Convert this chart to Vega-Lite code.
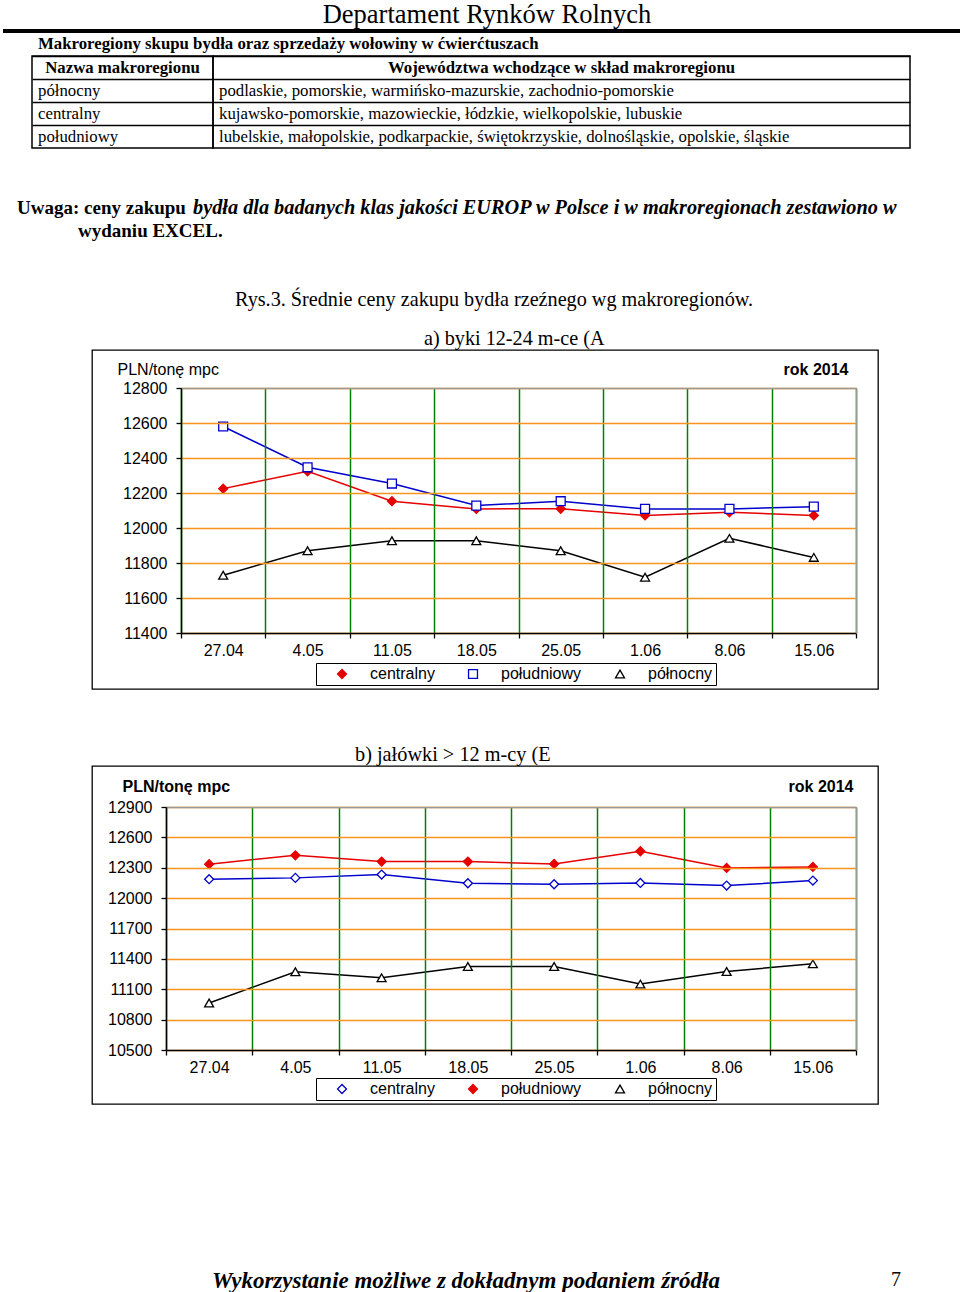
{
  "$schema": "https://vega.github.io/schema/vega-lite/v6.json",
  "background": "white",
  "padding": 0,
  "spacing": 0,
  "bounds": "full",
  "config": {"view": {"stroke": null}, "concat": {"spacing": 0}},
  "resolve": {"scale": {"stroke": "independent", "fill": "independent", "shape": "independent"}, "legend": {"stroke": "independent", "fill": "independent", "shape": "independent"}},
  "vconcat": [
    {"width": 960, "height": 28, "data": {"values": [{"t": "Departament Rynków Rolnych"}]},
     "mark": {"type": "text", "font": "Liberation Serif", "fontSize": 26.5, "dx": 7, "dy": 1, "color": "black"},
     "encoding": {"text": {"field": "t"}}},
    {"hconcat": [
      {"width": 3, "height": 4, "data": {"values": [{}]}, "mark": {"type": "point", "opacity": 0, "size": 1}},
      {"width": 957, "height": 4, "data": {"values": [{}]}, "mark": {"type": "point", "opacity": 0, "size": 1}, "view": {"fill": "black", "stroke": null}}
    ], "spacing": 0, "bounds": "flush"},
    {"hconcat": [
      {"width": 38, "height": 22, "data": {"values": [{}]}, "mark": {"type": "point", "opacity": 0, "size": 1}},
      {"width": 860, "height": 22, "data": {"values": [{"t": "Makroregiony skupu bydła oraz sprzedaży wołowiny w ćwierćtuszach"}]},
       "mark": {"type": "text", "align": "left", "font": "Liberation Serif", "fontSize": 16.8, "fontWeight": "bold", "color": "black"},
       "encoding": {"text": {"field": "t"}, "x": {"datum": 0, "type": "quantitative", "scale": {"domain": [0, 1]}, "axis": null}}}
    ], "spacing": 0, "bounds": "flush"},
    {"hconcat": [
      {"width": 32, "height": 92, "data": {"values": [{}]}, "mark": {"type": "point", "opacity": 0, "size": 1}},
      {"width": 181, "height": 92, "view": {"stroke": "black", "strokeWidth": 1.5},
       "data": {"values": [{"r": 0, "t": "Nazwa makroregionu"}, {"r": 1, "t": "północny"}, {"r": 2, "t": "centralny"}, {"r": 3, "t": "południowy"}]},
       "encoding": {"y": {"field": "r", "type": "ordinal", "scale": {"type": "band", "paddingInner": 0, "paddingOuter": 0}, "axis": {"title": null, "labels": false, "ticks": false, "domain": false, "grid": true, "gridColor": "black", "gridWidth": 1.5, "bandPosition": 0}}, "text": {"field": "t"}},
       "layer": [
         {"transform": [{"filter": "datum.r == 0"}], "mark": {"type": "text", "font": "Liberation Serif", "fontSize": 16.8, "fontWeight": "bold", "color": "black"}},
         {"transform": [{"filter": "datum.r > 0"}], "mark": {"type": "text", "align": "left", "dx": 6, "font": "Liberation Serif", "fontSize": 16.8, "color": "black"},
          "encoding": {"x": {"datum": 0, "type": "quantitative", "scale": {"domain": [0, 1]}, "axis": null}}}
       ]},
      {"width": 697, "height": 92, "view": {"stroke": "black", "strokeWidth": 1.5},
       "data": {"values": [{"r": 0, "t": "Województwa wchodzące w skład makroregionu"}, {"r": 1, "t": "podlaskie, pomorskie, warmińsko-mazurskie, zachodnio-pomorskie"}, {"r": 2, "t": "kujawsko-pomorskie, mazowieckie, łódzkie, wielkopolskie, lubuskie"}, {"r": 3, "t": "lubelskie, małopolskie, podkarpackie, świętokrzyskie, dolnośląskie, opolskie, śląskie"}]},
       "encoding": {"y": {"field": "r", "type": "ordinal", "scale": {"type": "band", "paddingInner": 0, "paddingOuter": 0}, "axis": {"title": null, "labels": false, "ticks": false, "domain": false, "grid": true, "gridColor": "black", "gridWidth": 1.5, "bandPosition": 0}}, "text": {"field": "t"}},
       "layer": [
         {"transform": [{"filter": "datum.r == 0"}], "mark": {"type": "text", "font": "Liberation Serif", "fontSize": 16.8, "fontWeight": "bold", "color": "black"}},
         {"transform": [{"filter": "datum.r > 0"}], "mark": {"type": "text", "align": "left", "dx": 6, "font": "Liberation Serif", "fontSize": 16.8, "color": "black"},
          "encoding": {"x": {"datum": 0, "type": "quantitative", "scale": {"domain": [0, 1]}, "axis": null}}}
       ]}
    ], "spacing": 0, "bounds": "flush"},
    {"width": 1, "height": 47, "data": {"values": [{}]}, "mark": {"type": "point", "opacity": 0, "size": 1}},
    {"hconcat": [
      {"width": 17, "height": 46, "data": {"values": [{}]}, "mark": {"type": "point", "opacity": 0, "size": 1}},
      {"width": 900, "height": 46,
       "data": {"values": [{"ln": 1, "g": "a", "t": "Uwaga: ceny zakupu"}, {"ln": 1, "g": "b", "t": "bydła dla badanych klas jakości EUROP w Polsce i w makroregionach zestawiono w"}, {"ln": 2, "g": "c", "t": "wydaniu EXCEL."}]},
       "encoding": {"y": {"field": "ln", "type": "ordinal", "scale": {"type": "band", "paddingInner": 0, "paddingOuter": 0}, "axis": null},
                    "x": {"datum": 0, "type": "quantitative", "scale": {"domain": [0, 1]}, "axis": null},
                    "text": {"field": "t"}},
       "layer": [
         {"transform": [{"filter": "datum.g == 'a'"}], "mark": {"type": "text", "align": "left", "font": "Liberation Serif", "fontSize": 19, "fontWeight": "bold", "color": "black"}},
         {"transform": [{"filter": "datum.g == 'b'"}], "mark": {"type": "text", "align": "left", "dx": 176, "font": "Liberation Serif", "fontSize": 20.3, "fontWeight": "bold", "fontStyle": "italic", "color": "black"}},
         {"transform": [{"filter": "datum.g == 'c'"}], "mark": {"type": "text", "align": "left", "dx": 61, "font": "Liberation Serif", "fontSize": 19, "fontWeight": "bold", "color": "black"}}
       ]}
    ], "spacing": 0, "bounds": "flush"},
    {"width": 1, "height": 47, "data": {"values": [{}]}, "mark": {"type": "point", "opacity": 0, "size": 1}},
    {"hconcat": [
      {"width": 235, "height": 22, "data": {"values": [{}]}, "mark": {"type": "point", "opacity": 0, "size": 1}},
      {"width": 700, "height": 22, "data": {"values": [{"t": "Rys.3. Średnie ceny zakupu bydła rzeźnego wg makroregionów."}]},
       "mark": {"type": "text", "align": "left", "font": "Liberation Serif", "fontSize": 20.2, "color": "black"},
       "encoding": {"text": {"field": "t"}, "x": {"datum": 0, "type": "quantitative", "scale": {"domain": [0, 1]}, "axis": null}}}
    ], "spacing": 0, "bounds": "flush"},
    {"width": 1, "height": 16, "data": {"values": [{}]}, "mark": {"type": "point", "opacity": 0, "size": 1}},
    {"hconcat": [
      {"width": 424, "height": 21, "data": {"values": [{}]}, "mark": {"type": "point", "opacity": 0, "size": 1}},
      {"width": 400, "height": 21, "data": {"values": [{"t": "a) byki 12-24 m-ce (A"}]},
       "mark": {"type": "text", "align": "left", "font": "Liberation Serif", "fontSize": 20.2, "dy": 1, "color": "black"},
       "encoding": {"text": {"field": "t"}, "x": {"datum": 0, "type": "quantitative", "scale": {"domain": [0, 1]}, "axis": null}}}
    ], "spacing": 0, "bounds": "flush"},
    {"hconcat": [
      {"width": 92, "height": 339, "data": {"values": [{}]}, "mark": {"type": "point", "opacity": 0, "size": 1}},
      {"width": 786, "height": 339,
       "view": {"stroke": "black", "strokeWidth": 1.3},
       "data": {"values": [
         {"d": "27.04", "s": "centralny", "v": 12225}, {"d": "4.05", "s": "centralny", "v": 12324}, {"d": "11.05", "s": "centralny", "v": 12153}, {"d": "18.05", "s": "centralny", "v": 12109},
         {"d": "25.05", "s": "centralny", "v": 12110}, {"d": "1.06", "s": "centralny", "v": 12072}, {"d": "8.06", "s": "centralny", "v": 12090}, {"d": "15.06", "s": "centralny", "v": 12072},
         {"d": "27.04", "s": "południowy", "v": 12580}, {"d": "4.05", "s": "południowy", "v": 12347}, {"d": "11.05", "s": "południowy", "v": 12254}, {"d": "18.05", "s": "południowy", "v": 12128},
         {"d": "25.05", "s": "południowy", "v": 12153}, {"d": "1.06", "s": "południowy", "v": 12109}, {"d": "8.06", "s": "południowy", "v": 12109}, {"d": "15.06", "s": "południowy", "v": 12122},
         {"d": "27.04", "s": "północny", "v": 11730}, {"d": "4.05", "s": "północny", "v": 11870}, {"d": "11.05", "s": "północny", "v": 11927}, {"d": "18.05", "s": "północny", "v": 11927},
         {"d": "25.05", "s": "północny", "v": 11870}, {"d": "1.06", "s": "północny", "v": 11719}, {"d": "8.06", "s": "północny", "v": 11941}, {"d": "15.06", "s": "północny", "v": 11832}
       ]},
       "layer": [
         {"mark": {"type": "line", "strokeWidth": 1.5},
          "encoding": {
            "x": {"field": "d", "type": "ordinal", "sort": ["27.04", "4.05", "11.05", "18.05", "25.05", "1.06", "8.06", "15.06"],
                  "scale": {"type": "band", "range": [89, 764], "paddingInner": 0, "paddingOuter": 0},
                  "axis": {"orient": "bottom", "offset": -56, "tickBand": "extent", "grid": false, "domainColor": "black", "domainWidth": 1.5, "tickColor": "black", "tickWidth": 1.3, "tickSize": 5, "labelFont": "Liberation Sans", "labelFontSize": 16, "labelColor": "black", "labelPadding": 4, "labelAngle": 0, "title": null, "zindex": 1}},
            "y": {"field": "v", "type": "quantitative",
                  "scale": {"domain": [11400, 12800], "range": [283, 38], "zero": false, "nice": false},
                  "axis": {"orient": "left", "offset": -89, "values": [11400, 11600, 11800, 12000, 12200, 12400, 12600, 12800], "format": "d", "grid": true, "gridColor": "#f7941d", "gridWidth": 1.5, "domainColor": "black", "domainWidth": 1.5, "tickColor": "black", "tickWidth": 1.3, "tickSize": 5, "labelFont": "Liberation Sans", "labelFontSize": 16, "labelColor": "black", "labelPadding": 9,
                           "title": "PLN/tonę mpc", "titleAngle": 0, "titleAlign": "left", "titleBaseline": "middle", "titleX": -64, "titleY": 19, "titleFont": "Liberation Sans", "titleFontSize": 16, "titleFontWeight": "normal", "titleColor": "black", "zindex": 1}},
            "stroke": {"field": "s", "type": "nominal", "scale": {"domain": ["centralny", "południowy", "północny"], "range": ["#e60000", "#0000cc", "black"]}}
          }},
         {"mark": {"type": "point", "filled": true, "size": 80, "strokeWidth": 1.3, "opacity": 1},
          "encoding": {
            "x": {"field": "d", "type": "ordinal", "sort": ["27.04", "4.05", "11.05", "18.05", "25.05", "1.06", "8.06", "15.06"],
                  "scale": {"type": "band", "range": [89, 764], "paddingInner": 0, "paddingOuter": 0},
                  "axis": {"orient": "top", "offset": -38, "tickBand": "extent", "grid": true, "gridColor": "#008000", "gridWidth": 1.5, "domainColor": "#999999", "domainWidth": 1.5, "ticks": false, "labels": false, "title": null, "zindex": 1}},
            "y": {"field": "v", "type": "quantitative",
                  "scale": {"domain": [11400, 12800], "range": [283, 38], "zero": false, "nice": false},
                  "axis": {"orient": "right", "offset": -22, "grid": false, "domainColor": "#999999", "domainWidth": 1.5, "ticks": false, "labels": false,
                           "title": "rok 2014", "titleAngle": 0, "titleAlign": "right", "titleBaseline": "middle", "titleX": -8, "titleY": 19, "titleFont": "Liberation Sans", "titleFontSize": 16, "titleFontWeight": "bold", "titleColor": "black", "zindex": 1}},
            "stroke": {"field": "s", "type": "nominal", "scale": {"domain": ["centralny", "południowy", "północny"], "range": ["#e60000", "#0000cc", "black"]},
                       "legend": {"orient": "none", "legendX": 224, "legendY": 313, "direction": "horizontal", "title": null, "strokeColor": "black", "fillColor": "white", "padding": 3, "symbolSize": 80, "symbolStrokeWidth": 1.3, "symbolOffset": 15, "labelOffset": 20, "columnPadding": 15, "labelFont": "Liberation Sans", "labelFontSize": 16, "labelColor": "black"}},
            "fill": {"field": "s", "type": "nominal", "scale": {"domain": ["centralny", "południowy", "północny"], "range": ["#e60000", "white", "white"]},
                     "legend": {"orient": "none", "legendX": 224, "legendY": 313, "direction": "horizontal", "title": null, "strokeColor": "black", "fillColor": "white", "padding": 3, "symbolSize": 80, "symbolStrokeWidth": 1.3, "symbolOffset": 15, "labelOffset": 20, "columnPadding": 15, "labelFont": "Liberation Sans", "labelFontSize": 16, "labelColor": "black"}},
            "shape": {"field": "s", "type": "nominal", "scale": {"domain": ["centralny", "południowy", "północny"], "range": ["diamond", "square", "triangle-up"]},
                      "legend": {"orient": "none", "legendX": 224, "legendY": 313, "direction": "horizontal", "title": null, "strokeColor": "black", "fillColor": "white", "padding": 3, "symbolSize": 80, "symbolStrokeWidth": 1.3, "symbolOffset": 15, "labelOffset": 20, "columnPadding": 15, "labelFont": "Liberation Sans", "labelFontSize": 16, "labelColor": "black"}}
          }}
       ],
       "resolve": {"axis": {"x": "independent", "y": "independent"}}}
    ], "spacing": 0, "bounds": "flush",
    "resolve": {"scale": {"stroke": "independent", "fill": "independent", "shape": "independent"}, "legend": {"stroke": "independent", "fill": "independent", "shape": "independent"}}},
    {"width": 1, "height": 53, "data": {"values": [{}]}, "mark": {"type": "point", "opacity": 0, "size": 1}},
    {"hconcat": [
      {"width": 355, "height": 21, "data": {"values": [{}]}, "mark": {"type": "point", "opacity": 0, "size": 1}},
      {"width": 400, "height": 21, "data": {"values": [{"t": "b) jałówki > 12 m-cy (E"}]},
       "mark": {"type": "text", "align": "left", "font": "Liberation Serif", "fontSize": 20.3, "dy": 1, "color": "black"},
       "encoding": {"text": {"field": "t"}, "x": {"datum": 0, "type": "quantitative", "scale": {"domain": [0, 1]}, "axis": null}}}
    ], "spacing": 0, "bounds": "flush"},
    {"hconcat": [
      {"width": 92, "height": 338, "data": {"values": [{}]}, "mark": {"type": "point", "opacity": 0, "size": 1}},
      {"width": 786, "height": 338,
       "view": {"stroke": "black", "strokeWidth": 1.3},
       "data": {"values": [
         {"d": "27.04", "s": "centralny", "v": 12187}, {"d": "4.05", "s": "centralny", "v": 12200}, {"d": "11.05", "s": "centralny", "v": 12233}, {"d": "18.05", "s": "centralny", "v": 12147},
         {"d": "25.05", "s": "centralny", "v": 12137}, {"d": "1.06", "s": "centralny", "v": 12150}, {"d": "8.06", "s": "centralny", "v": 12124}, {"d": "15.06", "s": "centralny", "v": 12173},
         {"d": "27.04", "s": "południowy", "v": 12335}, {"d": "4.05", "s": "południowy", "v": 12423}, {"d": "11.05", "s": "południowy", "v": 12361}, {"d": "18.05", "s": "południowy", "v": 12361},
         {"d": "25.05", "s": "południowy", "v": 12338}, {"d": "1.06", "s": "południowy", "v": 12463}, {"d": "8.06", "s": "południowy", "v": 12298}, {"d": "15.06", "s": "południowy", "v": 12308},
         {"d": "27.04", "s": "północny", "v": 10964}, {"d": "4.05", "s": "północny", "v": 11273}, {"d": "11.05", "s": "północny", "v": 11213}, {"d": "18.05", "s": "północny", "v": 11325},
         {"d": "25.05", "s": "północny", "v": 11325}, {"d": "1.06", "s": "północny", "v": 11151}, {"d": "8.06", "s": "północny", "v": 11276}, {"d": "15.06", "s": "północny", "v": 11351}
       ]},
       "layer": [
         {"mark": {"type": "line", "strokeWidth": 1.5},
          "encoding": {
            "x": {"field": "d", "type": "ordinal", "sort": ["27.04", "4.05", "11.05", "18.05", "25.05", "1.06", "8.06", "15.06"],
                  "scale": {"type": "band", "range": [74, 764], "paddingInner": 0, "paddingOuter": 0},
                  "axis": {"orient": "bottom", "offset": -54, "tickBand": "extent", "grid": false, "domainColor": "black", "domainWidth": 1.5, "tickColor": "black", "tickWidth": 1.3, "tickSize": 5, "labelFont": "Liberation Sans", "labelFontSize": 16, "labelColor": "black", "labelPadding": 4, "labelAngle": 0, "title": null, "zindex": 1}},
            "y": {"field": "v", "type": "quantitative",
                  "scale": {"domain": [10500, 12900], "range": [284, 41], "zero": false, "nice": false},
                  "axis": {"orient": "left", "offset": -74, "values": [10500, 10800, 11100, 11400, 11700, 12000, 12300, 12600, 12900], "format": "d", "grid": true, "gridColor": "#f7941d", "gridWidth": 1.5, "domainColor": "black", "domainWidth": 1.5, "tickColor": "black", "tickWidth": 1.3, "tickSize": 5, "labelFont": "Liberation Sans", "labelFontSize": 16, "labelColor": "black", "labelPadding": 9,
                           "title": "PLN/tonę mpc", "titleAngle": 0, "titleAlign": "left", "titleBaseline": "middle", "titleX": -44, "titleY": 20, "titleFont": "Liberation Sans", "titleFontSize": 16, "titleFontWeight": "bold", "titleColor": "black", "zindex": 1}},
            "stroke": {"field": "s", "type": "nominal", "scale": {"domain": ["centralny", "południowy", "północny"], "range": ["#0000cc", "#e60000", "black"]}}
          }},
         {"mark": {"type": "point", "filled": true, "size": 80, "strokeWidth": 1.3, "opacity": 1},
          "encoding": {
            "x": {"field": "d", "type": "ordinal", "sort": ["27.04", "4.05", "11.05", "18.05", "25.05", "1.06", "8.06", "15.06"],
                  "scale": {"type": "band", "range": [74, 764], "paddingInner": 0, "paddingOuter": 0},
                  "axis": {"orient": "top", "offset": -41, "tickBand": "extent", "grid": true, "gridColor": "#008000", "gridWidth": 1.5, "domainColor": "#999999", "domainWidth": 1.5, "ticks": false, "labels": false, "title": null, "zindex": 1}},
            "y": {"field": "v", "type": "quantitative",
                  "scale": {"domain": [10500, 12900], "range": [284, 41], "zero": false, "nice": false},
                  "axis": {"orient": "right", "offset": -22, "grid": false, "domainColor": "#999999", "domainWidth": 1.5, "ticks": false, "labels": false,
                           "title": "rok 2014", "titleAngle": 0, "titleAlign": "right", "titleBaseline": "middle", "titleX": -3, "titleY": 20, "titleFont": "Liberation Sans", "titleFontSize": 16, "titleFontWeight": "bold", "titleColor": "black", "zindex": 1}},
            "stroke": {"field": "s", "type": "nominal", "scale": {"domain": ["centralny", "południowy", "północny"], "range": ["#0000cc", "#e60000", "black"]},
                       "legend": {"orient": "none", "legendX": 224, "legendY": 312, "direction": "horizontal", "title": null, "strokeColor": "black", "fillColor": "white", "padding": 3, "symbolSize": 80, "symbolStrokeWidth": 1.3, "symbolOffset": 15, "labelOffset": 20, "columnPadding": 15, "labelFont": "Liberation Sans", "labelFontSize": 16, "labelColor": "black"}},
            "fill": {"field": "s", "type": "nominal", "scale": {"domain": ["centralny", "południowy", "północny"], "range": ["white", "#e60000", "white"]},
                     "legend": {"orient": "none", "legendX": 224, "legendY": 312, "direction": "horizontal", "title": null, "strokeColor": "black", "fillColor": "white", "padding": 3, "symbolSize": 80, "symbolStrokeWidth": 1.3, "symbolOffset": 15, "labelOffset": 20, "columnPadding": 15, "labelFont": "Liberation Sans", "labelFontSize": 16, "labelColor": "black"}},
            "shape": {"field": "s", "type": "nominal", "scale": {"domain": ["centralny", "południowy", "północny"], "range": ["diamond", "diamond", "triangle-up"]},
                      "legend": {"orient": "none", "legendX": 224, "legendY": 312, "direction": "horizontal", "title": null, "strokeColor": "black", "fillColor": "white", "padding": 3, "symbolSize": 80, "symbolStrokeWidth": 1.3, "symbolOffset": 15, "labelOffset": 20, "columnPadding": 15, "labelFont": "Liberation Sans", "labelFontSize": 16, "labelColor": "black"}}
          }}
       ],
       "resolve": {"axis": {"x": "independent", "y": "independent"}}}
    ], "spacing": 0, "bounds": "flush",
    "resolve": {"scale": {"stroke": "independent", "fill": "independent", "shape": "independent"}, "legend": {"stroke": "independent", "fill": "independent", "shape": "independent"}}},
    {"width": 1, "height": 165, "data": {"values": [{}]}, "mark": {"type": "point", "opacity": 0, "size": 1}},
    {"hconcat": [
      {"width": 212, "height": 24, "data": {"values": [{}]}, "mark": {"type": "point", "opacity": 0, "size": 1}},
      {"width": 679, "height": 24, "data": {"values": [{"t": "Wykorzystanie możliwe z dokładnym podaniem źródła"}]},
       "mark": {"type": "text", "align": "left", "font": "Liberation Serif", "fontSize": 23, "fontWeight": "bold", "fontStyle": "italic", "dy": -1, "color": "black"},
       "encoding": {"text": {"field": "t"}, "x": {"datum": 0, "type": "quantitative", "scale": {"domain": [0, 1]}, "axis": null}}},
      {"width": 40, "height": 24, "data": {"values": [{"t": "7"}]},
       "mark": {"type": "text", "align": "left", "font": "Liberation Serif", "fontSize": 20, "dy": -2, "color": "black"},
       "encoding": {"text": {"field": "t"}, "x": {"datum": 0, "type": "quantitative", "scale": {"domain": [0, 1]}, "axis": null}}}
    ], "spacing": 0, "bounds": "flush"}
  ]
}
